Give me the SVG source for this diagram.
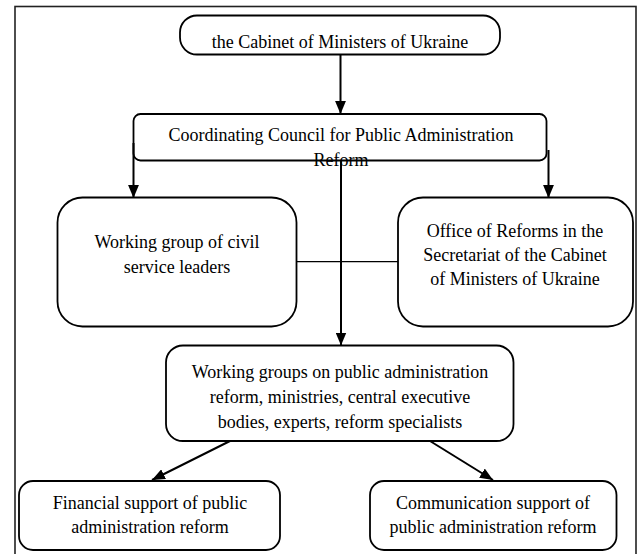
<svg xmlns="http://www.w3.org/2000/svg" width="641" height="554" viewBox="0 0 641 554">
<defs>
<style>
.box{fill:#fff;stroke:#000;stroke-width:1.8}
.t{font-size:18px;fill:#000;text-anchor:middle}
.ln{stroke:#000;stroke-width:2;fill:none}
.thin{stroke:#000;stroke-width:1.3;fill:none}
</style>
<marker id="ah" viewBox="0 0 12 10" refX="12" refY="5" markerWidth="13" markerHeight="11" markerUnits="userSpaceOnUse" orient="auto">
<path d="M0,0 L12,5 L0,10 z" fill="#000"/>
</marker>
</defs>
<rect x="0" y="0" width="641" height="554" fill="#fff"/>
<rect x="15" y="6.5" width="621" height="560" fill="none" stroke="#222" stroke-width="1.6"/>
<g font-family="'Liberation Serif', 'Times New Roman', 'DejaVu Serif', serif">
<g id="n-cabinet">
<rect class="box" x="180" y="15.5" width="320" height="39" rx="17"/>
<text class="t" x="340" y="48">the Cabinet of Ministers of Ukraine</text>
</g>

<g id="n-council">
<rect class="box" x="133.5" y="114" width="413" height="46.5" rx="7"/>
<text class="t" x="341" y="141">Coordinating Council for Public Administration</text>
<text class="t" x="341" y="166">Reform</text>
</g>

<g id="n-wgleaders">
<rect class="box" x="57.5" y="197.5" width="239" height="129" rx="25"/>
<text class="t" x="177" y="248">Working group of civil</text>
<text class="t" x="177" y="273">service leaders</text>
</g>

<g id="n-office">
<rect class="box" x="398" y="197.5" width="235" height="129" rx="25"/>
<text class="t" x="515" y="237">Office of Reforms in the</text>
<text class="t" x="515" y="261">Secretariat of the Cabinet</text>
<text class="t" x="515" y="285">of Ministers of Ukraine</text>
</g>

<g id="n-wgroups">
<rect class="box" x="166" y="345.5" width="347.5" height="95.5" rx="17"/>
<text class="t" x="340" y="378">Working groups on public administration</text>
<text class="t" x="340" y="403">reform, ministries, central executive</text>
<text class="t" x="340" y="428">bodies, experts, reform specialists</text>
</g>

<g id="n-financial">
<rect class="box" x="19" y="481" width="261" height="69" rx="14"/>
<text class="t" x="150" y="509">Financial support of public</text>
<text class="t" x="150" y="533">administration reform</text>
</g>

<g id="n-communication">
<rect class="box" x="370" y="481" width="246.5" height="69" rx="14"/>
<text class="t" x="493" y="509">Communication support of</text>
<text class="t" x="493" y="533">public administration reform</text>
</g>
</g>
<g id="connectors">
<line class="ln" x1="340.5" y1="54.5" x2="340.5" y2="114" marker-end="url(#ah)"/>
<line class="ln" x1="133.5" y1="143" x2="133.5" y2="198" marker-end="url(#ah)"/>
<line class="ln" x1="548.5" y1="150" x2="548.5" y2="198" marker-end="url(#ah)"/>
<line class="ln" x1="341" y1="160.5" x2="341" y2="345.5" marker-end="url(#ah)"/>
<line class="thin" x1="296.5" y1="261.7" x2="398" y2="261.7"/>
<line class="ln" x1="230" y1="441" x2="152" y2="480" marker-end="url(#ah)"/>
<line class="ln" x1="430" y1="441" x2="493" y2="480" marker-end="url(#ah)"/>
</g>
</svg>
